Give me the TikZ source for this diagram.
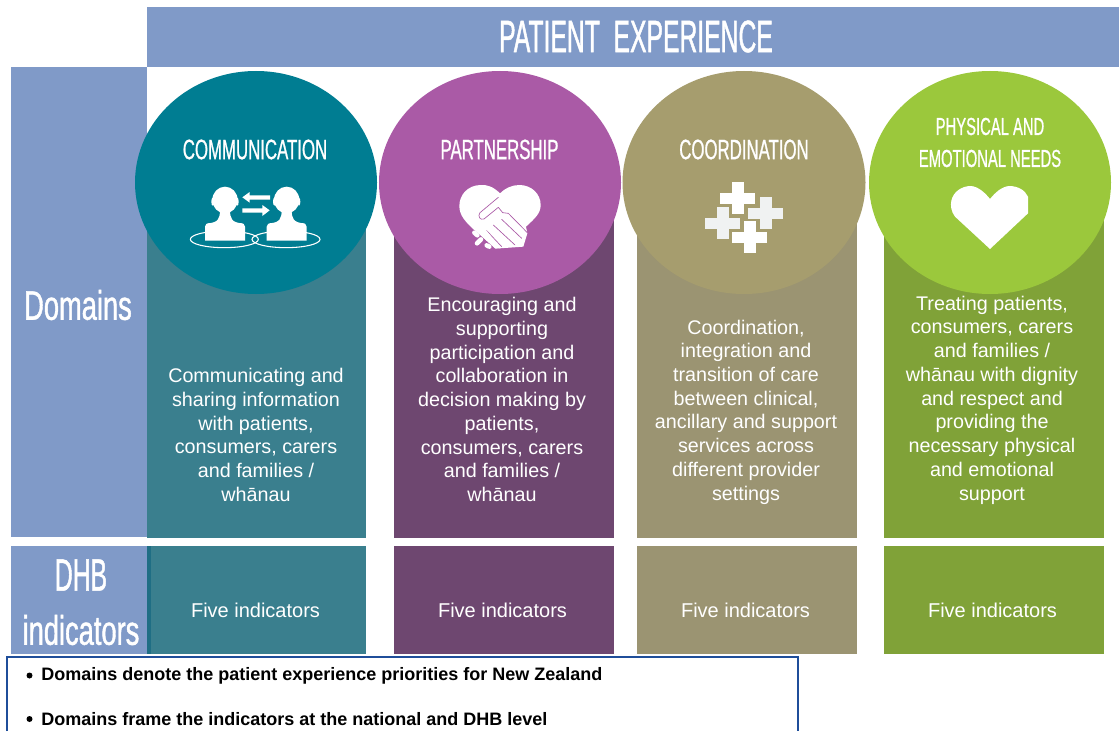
\documentclass[tikz,border=0pt]{standalone}
\usepackage{fontspec}
\setmainfont{Liberation Sans}
\newfontfamily\cond[FakeStretch=0.6,FakeBold=0.8]{Liberation Sans}
\newfontfamily\condtitle[FakeStretch=0.545,FakeBold=1.0]{Liberation Sans}
\newfontfamily\condwide[FakeStretch=0.66,FakeBold=1.0]{Liberation Sans}
\definecolor{hdr}{HTML}{809AC8}
\definecolor{colA}{HTML}{3A7F8E}
\definecolor{colB}{HTML}{6E4770}
\definecolor{colC}{HTML}{9B9472}
\definecolor{colD}{HTML}{80A238}
\definecolor{cirA}{HTML}{007D92}
\definecolor{cirB}{HTML}{AA5AA6}
\definecolor{cirC}{HTML}{A69D6E}
\definecolor{cirD}{HTML}{9BC83C}
\definecolor{strip}{HTML}{1F6E84}
\definecolor{boxline}{HTML}{1F4E9A}
\definecolor{crossgrey}{HTML}{F0F2F2}
\tikzset{
  band/.style={fill=hdr,draw=none},
  desc/.style={text=white,align=center,font=\fontsize{14.8}{17.8}\selectfont,inner sep=0pt},
  five/.style={text=white,font=\fontsize{15}{17}\selectfont,inner sep=0pt},
  ctitle/.style={text=white,align=center,font=\cond\fontsize{21}{24}\selectfont,inner sep=0pt},
  bullet/.style={anchor=west,inner sep=0pt,font=\fontsize{13.5}{15}\selectfont\bfseries},
  bigtext/.style={text=white,inner sep=0pt},
  iconfill/.style={fill=white,draw=none},
}
\begin{document}
\begin{tikzpicture}[x=0.75pt,y=-0.75pt]
\useasboundingbox (0,0) rectangle (1119,731);
% bands
\fill[band] (147,7) rectangle (1119,67);
\fill[band] (11,67) rectangle (147,537);
\fill[band] (11,546) rectangle (147,654);
% columns
\foreach \l/\r/\c in {147/366/colA,394/614/colB,637/857/colC,884/1104/colD}{
  \fill[\c] (\l,200) rectangle (\r,538);
  \fill[\c] (\l,546) rectangle (\r,654);
}
\fill[strip] (147,546) rectangle (151,654);
% circles
\fill[cirA] (256,182.5) ellipse [x radius=121,y radius=111.5];
\fill[cirB] (500,182.5) ellipse [x radius=121,y radius=111.5];
\fill[cirC] (744,182.5) ellipse [x radius=121.5,y radius=111.5];
\fill[cirD] (990,182.5) ellipse [x radius=121,y radius=111.5];
% headings
\node[bigtext,font=\condtitle\fontsize{34}{38}\selectfont] (title) at (636,36.5) {PATIENT\ \ EXPERIENCE};
\node[bigtext,font=\condwide\fontsize{31}{34}\selectfont] (domains) at (78,305) {Domains};
\node[bigtext,font=\condtitle\fontsize{34}{36}\selectfont] (dhb) at (81,575) {DHB};
\node[bigtext,font=\condwide\fontsize{31}{34}\selectfont] (indic) at (81,630) {indicators};
\node[ctitle] (tA) at (255,149.5) {COMMUNICATION};
\node[ctitle] (tB) at (499.5,149.5) {PARTNERSHIP};
\node[ctitle] (tC) at (744,149.5) {COORDINATION};
\node[ctitle,font=\cond\fontsize{18.5}{24}\selectfont] (tD) at (990,142.5) {PHYSICAL AND\\[0pt]EMOTIONAL NEEDS};
% descriptions
\node[desc] (dA) at (256,435) {Communicating and\\sharing information\\with patients,\\consumers, carers\\and families /\\whānau};
\node[desc] (dB) at (502,399.5) {Encouraging and\\supporting\\participation and\\collaboration in\\decision making by\\patients,\\consumers, carers\\and families /\\whānau};
\node[desc] (dC) at (746,412) {Coordination,\\integration and\\transition of care\\between clinical,\\ancillary and support\\services across\\different provider\\settings};
\node[desc] (dD) at (992,400) {Treating patients,\\consumers, carers\\and families /\\whānau with dignity\\and respect and\\providing the\\necessary physical\\and emotional\\support};
\node[five] (fA) at (255.5,610.5) {Five indicators};
\node[five] (fB) at (502.5,610.5) {Five indicators};
\node[five] (fC) at (745.5,610.5) {Five indicators};
\node[five] (fD) at (992.5,610.5) {Five indicators};
% communication icon
\begin{scope}[xshift=135*0.75pt,yshift=-70*0.75pt,x=0.25pt,y=-0.25pt]
  \foreach \dx in {0,185}{
    \begin{scope}[xshift=\dx*0.25pt]
      \draw[white,line width=0.8pt] (268,508) ellipse [x radius=102,y radius=25];
    \end{scope}
  }
  \foreach \dx in {0,185}{
    \begin{scope}[xshift=\dx*0.25pt]
      \fill[iconfill] (270,390) ellipse [x radius=38,y radius=40];
      \fill[iconfill] (233,395) ellipse [x radius=4,y radius=12];
      \fill[iconfill] (307,395) ellipse [x radius=4,y radius=12];
      \fill[iconfill] (255,420) -- (285,420) .. controls (285,445) and (290,458) .. (322,460)
        -- (326,462) -- (330,470) -- (330,512) -- (210,512) -- (210,470) -- (214,462) -- (218,460)
        .. controls (250,458) and (255,445) .. (255,420) -- cycle;
    \end{scope}
  }
  \fill[iconfill] (405,376) -- (344,376) -- (344,366) -- (322,382) -- (344,398) -- (344,389) -- (405,389) -- cycle;
  \fill[iconfill] (322,415) -- (382,415) -- (382,405) -- (404,421) -- (382,438) -- (382,428) -- (322,428) -- cycle;
\end{scope}
% partnership icon
\begin{scope}[xshift=380*0.75pt,yshift=-70*0.75pt,x=0.25pt,y=-0.25pt]
  \fill[iconfill] (360,370) .. controls (340,350) and (320,343) .. (300,345)
    .. controls (262,347) and (238,375) .. (238,408)
    .. controls (238,435) and (255,455) .. (285,482)
    -- (345,536) -- (430,530) -- (442,490) -- (438,470)
    .. controls (465,445) and (482,430) .. (482,405)
    .. controls (482,372) and (455,345) .. (418,345)
    .. controls (395,345) and (375,355) .. (360,370) -- cycle;
  \draw[cirB,line width=0.5pt,line cap=round,line join=round]
    (355,412) -- (312,447) .. controls (300,452) and (292,438) .. (300,428) -- (355,382);
  \draw[cirB,line width=0.5pt,line cap=round,line join=round]
    (355,412) -- (368,428) -- (385,430) -- (442,488);
  \draw[cirB,line width=0.5pt,line cap=round] (365,448) -- (425,505);
  \draw[cirB,line width=0.5pt,line cap=round] (340,465) -- (405,525);
  \draw[cirB,line width=0.5pt,line cap=round] (320,482) -- (365,530);
  \fill[cirB] (250,490) -- (285,482) -- (345,536) -- (270,545) -- cycle;
  \draw[white,line width=3.4pt,line cap=round] (283,488) -- (292,496);
  \draw[white,line width=3.4pt,line cap=round] (291,520) -- (303,508);
  \draw[white,line width=3.4pt,line cap=round] (320,526) -- (328,530);
  \fill[iconfill] (320,482) -- (360,535) .. controls (345,540) and (330,510) .. (310,490) -- cycle;
\end{scope}
% coordination icon
\begin{scope}[xshift=620*0.75pt,yshift=-70*0.75pt,x=0.25pt,y=-0.25pt]
  \foreach \cx/\cy/\c in {352.5/384/white,436.5/429/crossgrey,307.5/459/crossgrey,388.5/501/white}{
    \fill[\c] (\cx-18,\cy-48) rectangle (\cx+18,\cy+48);
    \fill[\c] (\cx-52.5,\cy-16.5) rectangle (\cx+52.5,\cy+16.5);
  }
\end{scope}
% heart icon
\begin{scope}[xshift=865*0.75pt,yshift=-70*0.75pt,x=0.25pt,y=-0.25pt]
  \fill[iconfill] (375,537) -- (270,440) .. controls (258,425) and (256,405) .. (259,392)
    .. controls (265,365) and (290,348) .. (318,348)
    .. controls (340,350) and (360,368) .. (375,387)
    .. controls (390,368) and (410,350) .. (432,348)
    .. controls (458,348) and (480,360) .. (489,380)
    -- (489,430) -- cycle;
\end{scope}
% note box
\draw[boxline,line width=1pt] (7,731) -- (7,657) -- (798,657) -- (798,731);
\fill[black] (29.5,675.5) circle [radius=3];
\node[bullet] (b1) at (41,675.5) {Domains denote the patient experience priorities for New Zealand};
\fill[black] (29.5,719) circle [radius=3];
\node[bullet] (b2) at (41,719) {Domains frame the indicators at the national and DHB level};
\end{tikzpicture}
\end{document}
